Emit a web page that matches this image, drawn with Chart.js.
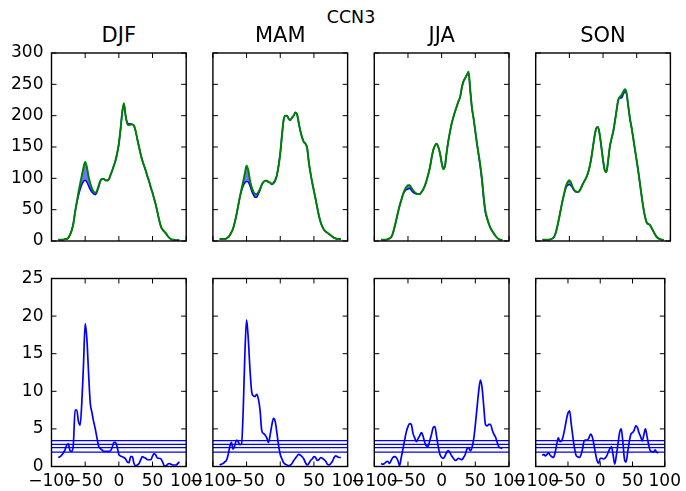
<!DOCTYPE html>
<html>
<head>
<meta charset="utf-8">
<script src="https://cdn.jsdelivr.net/npm/chart.js@4.4.1/dist/chart.umd.min.js"></script>
<style>
  body { margin: 0; background: #fff; }
  #wrap { position: relative; width: 686px; height: 491px; overflow: hidden; }
  #wrap canvas { position: absolute; left: 0; top: 0; }
  .ttl { position: absolute; font-family: 'DejaVu Sans'; color: #000; white-space: nowrap;
         transform: translateX(-50%); line-height: 1; }
</style>
</head>
<body>
<div id="wrap">
  <div class="ttl" style="left:351px; top:9px; font-size:17.5px;">CCN3</div>
</div>
<script>
// latitude grid
var lat = [-90,-87.5,-85,-82.5,-80,-77.5,-75,-72.5,-70,-67.5,-65,-62.5,-60,-57.5,-55,-52.5,-50,-47.5,-45,-42.5,-40,-37.5,-35,-32.5,-30,-27.5,-25,-22.5,-20,-17.5,-15,-12.5,-10,-7.5,-5,-2.5,0,2.5,5,7.5,10,12.5,15,17.5,20,22.5,25,27.5,30,32.5,35,37.5,40,42.5,45,47.5,50,52.5,55,57.5,60,62.5,65,67.5,70,72.5,75,77.5,80,82.5,85,87.5,90];

var seasons = ['DJF', 'MAM', 'JJA', 'SON'];
var xTicks = [-100, -50, 0, 50, 100];
var topTicks = [0, 50, 100, 150, 200, 250, 300];
var botTicks = [0, 5, 10, 15, 20, 25];
var sigLevels = [3.45, 2.95, 2.5, 1.9];

// top row: green and blue curves
var djfGreen = [2,2,2,2,3,3,5,10,17,28,46,62,77,91,104,117,126,118,103,92,84,79,77,80,88,96,99,99,97,96,98,105,112,120,128,140,155,178,205,220,200,187,185,186,186,184,175,162,150,138,128,120,112,103,95,85,77,67,57,45,33,23,18,15,12,8,5,3,2,2,1,1,1];
var djfBlue  = [2,2,2,2,3,3,5,10,17,28,46,60,72,82,90,95,97,94,88,82,78,75,74,78,86,95,99,99,97,97,98,105,112,120,128,140,155,178,205,219,200,189,187,187,186,184,175,162,150,138,128,120,112,103,95,85,77,67,57,45,33,23,18,15,12,8,5,3,2,2,1,1,1];
var mamGreen = [3,3,3,3,4,6,9,14,20,30,42,56,70,83,95,108,120,113,97,86,79,75,75,78,83,90,94,96,96,94,93,91,93,97,105,120,140,168,193,200,200,195,193,197,200,205,202,188,175,165,158,155,148,125,108,93,80,67,53,40,30,23,18,15,13,11,9,7,5,4,3,3,3];
var mamBlue  = [3,3,3,3,4,6,9,14,20,30,42,56,70,80,88,93,95,94,88,80,74,70,70,75,81,89,94,96,96,94,93,90,92,96,105,120,140,168,193,200,200,195,193,197,200,205,202,188,175,165,158,155,148,125,108,93,80,67,53,40,30,23,18,15,13,11,9,7,5,4,3,3,3];
var jjaGreen = [2,2,2,2,3,4,6,12,22,33,45,56,65,74,81,86,89,89,85,81,78,76,75,75,78,82,88,96,106,117,132,145,152,155,150,140,125,115,120,142,160,175,188,198,207,215,223,230,245,255,260,265,270,240,212,195,175,155,138,120,98,70,48,37,28,21,16,12,8,5,3,2,2];
var jjaBlue  = [2,2,2,2,3,4,6,12,22,33,45,56,65,74,79,82,83,84,81,78,76,75,75,75,78,82,88,96,106,117,132,145,152,155,150,140,125,115,120,142,160,175,188,198,207,215,223,230,245,255,260,265,268,240,212,195,175,155,136,117,94,66,45,35,27,21,16,12,8,5,3,2,2];
var sonGreen = [2,2,2,2,2,3,4,7,14,25,38,52,65,77,88,94,97,93,86,81,79,78,80,85,91,96,101,108,118,132,150,168,180,182,170,150,129,113,110,128,150,163,174,190,208,225,230,233,238,242,236,215,195,180,163,145,128,110,90,70,52,38,29,27,25,20,15,10,6,4,3,2,2];
var sonBlue  = [2,2,2,2,2,3,4,7,14,25,38,52,65,76,85,89,90,88,84,80,78,78,80,85,91,96,101,108,118,132,150,168,180,182,170,150,129,113,110,128,150,163,174,190,208,224,228,228,234,238,234,215,195,180,163,145,128,110,90,70,52,38,29,27,25,20,15,10,6,4,3,2,2];

// bottom row: blue difference curves
var djfDiff = [1.2,1.3,1.5,1.8,2.2,2.8,3.0,2.1,2.0,3.0,7.5,7.5,6.0,5.5,8.5,13.5,19.0,17.0,12.5,8.5,7.2,6.0,5.0,3.8,2.7,2.4,2.2,2.0,2.0,2.0,2.0,2.1,2.5,3.2,3.2,2.6,1.6,1.4,1.3,1.2,1.0,0.6,0.5,1.3,1.3,0.4,0.1,0.2,0.4,0.9,1.3,1.2,1.1,0.9,0.9,0.9,1.4,1.7,1.5,1.1,1.1,1.0,0.6,0.1,0.1,0.3,0.4,0.3,0.2,0.2,0.2,0.4,0.6];
var mamDiff = [0.2,0.3,0.4,0.6,0.8,1.5,2.6,3.2,2.3,2.8,3.5,3.3,2.9,3.0,7.5,15.0,19.5,17.0,13.0,10.0,9.4,9.3,9.6,9.0,7.5,4.8,4.4,4.2,3.8,3.2,4.2,5.5,6.4,6.0,4.5,2.8,1.6,1.0,0.5,0.3,0.2,0.1,0.2,0.4,0.8,1.1,1.4,1.6,1.5,1.3,1.0,0.5,0.2,0.4,0.8,1.0,1.3,1.2,0.8,0.9,1.2,1.1,0.9,0.7,0.3,0.2,0.4,0.7,1.2,1.4,1.3,1.2,1.2];
var jjaDiff = [0.4,0.3,0.4,0.6,0.7,0.4,0.8,1.2,1.3,1.2,0.8,0.1,1.2,2.3,3.5,4.6,5.3,5.7,5.6,4.4,3.8,3.3,3.7,4.1,4.5,4.0,3.2,2.7,2.7,3.5,4.3,5.2,5.3,4.0,2.6,1.6,1.2,1.1,1.4,1.9,2.1,1.8,1.4,1.1,0.8,0.9,1.1,1.0,0.9,1.2,1.6,2.3,2.5,2.1,2.5,3.6,5.5,7.8,10.0,11.5,10.5,8.0,5.6,5.4,5.6,5.6,4.9,4.3,3.9,3.2,2.6,2.5,2.4];
var sonDiff = [1.5,1.6,1.4,1.6,1.8,1.5,1.3,1.2,1.8,2.9,3.8,3.3,3.4,4.0,5.0,6.2,7.1,7.4,5.7,4.0,2.5,1.5,1.3,1.2,1.5,2.3,3.4,3.5,3.5,3.8,4.3,4.0,3.0,1.8,0.8,0.4,1.1,1.1,1.0,1.1,1.4,1.9,2.4,2.6,1.5,0.3,1.5,3.0,4.5,5.0,3.3,1.0,0.6,1.9,3.3,4.3,4.5,4.8,5.4,5.2,4.5,4.0,3.4,4.2,5.0,4.0,2.9,2.1,2.0,1.9,2.2,1.9,1.8];

var greens = [djfGreen, mamGreen, jjaGreen, sonGreen];
var blues = [djfBlue, mamBlue, jjaBlue, sonBlue];
var diffs = [djfDiff, mamDiff, jjaDiff, sonDiff];

Chart.defaults.font.family = 'DejaVu Sans';
Chart.defaults.font.size = 17;
Chart.defaults.color = '#000';

var W = 686, H = 491;
var colLeft = [51.5, 212.9, 374.3, 535.7];
var colW = 134.7;
var rowTop = [53, 278.5];
var rowH = 188;
var yAxisW = 50, xAxisH = 24;

function pts(ys) {
    return lat.map(function (l, i) { return {x: l, y: ys[i]}; });
}

function minusSign(v) {
    return String(v).replace('-', '\u2212');
}

// matplotlib-like frame with inward ticks on every side
var frameTicks = {
    id: 'frameTicks',
    afterDraw: function (chart) {
        var ctx = chart.ctx, a = chart.chartArea;
        var xs = chart.scales.x, ys = chart.scales.y;
        ctx.save();
        ctx.strokeStyle = '#000';
        ctx.lineWidth = 1;
        ctx.beginPath();
        xs.ticks.forEach(function (t) {
            var p = xs.getPixelForValue(t.value);
            ctx.moveTo(p, a.bottom); ctx.lineTo(p, a.bottom - 5);
            ctx.moveTo(p, a.top); ctx.lineTo(p, a.top + 5);
        });
        ys.ticks.forEach(function (t) {
            var p = ys.getPixelForValue(t.value);
            ctx.moveTo(a.left, p); ctx.lineTo(a.left + 5, p);
            ctx.moveTo(a.right, p); ctx.lineTo(a.right - 5, p);
        });
        ctx.stroke();
        ctx.lineWidth = 1.4;
        ctx.strokeRect(a.left, a.top, a.right - a.left, a.bottom - a.top);
        ctx.restore();
    }
};

function makePanel(row, col, datasets, yTicks) {
    var cv = document.createElement('canvas');
    cv.width = W; cv.height = H;
    document.getElementById('wrap').appendChild(cv);
    var left = colLeft[col], top = rowTop[row];
    new Chart(cv, {
        type: 'line',
        data: { datasets: datasets },
        options: {
            responsive: false,
            animation: false,
            events: [],
            layout: { padding: { left: left - yAxisW, top: top, right: W - left - colW, bottom: H - top - rowH - xAxisH } },
            plugins: { legend: { display: false }, tooltip: { enabled: false } },
            elements: { point: { radius: 0 } },
            scales: {
                x: {
                    type: 'linear', min: -100, max: 100,
                    afterBuildTicks: function (s) { s.ticks = xTicks.map(function (v) { return {value: v}; }); },
                    afterFit: function (s) { s.height = xAxisH; },
                    grid: { display: false, drawTicks: false },
                    border: { display: false },
                    ticks: { display: row === 1, padding: 5, maxRotation: 0, autoSkip: false, callback: minusSign }
                },
                y: {
                    min: 0, max: yTicks[yTicks.length - 1],
                    afterBuildTicks: function (s) { s.ticks = yTicks.map(function (v) { return {value: v}; }); },
                    afterFit: function (s) { s.width = yAxisW; },
                    grid: { display: false, drawTicks: false },
                    border: { display: false },
                    ticks: { display: col === 0, padding: 8, autoSkip: false }
                }
            }
        },
        plugins: [frameTicks]
    });
}

seasons.forEach(function (name, i) {
    var t = document.createElement('div');
    t.className = 'ttl';
    t.style.left = (colLeft[i] + colW / 2) + 'px';
    t.style.top = '25px';
    t.style.fontSize = '21px';
    t.textContent = name;
    document.getElementById('wrap').appendChild(t);

    // green first so it is drawn on top; fill down to the blue curve
    makePanel(0, i, [
        { data: pts(greens[i]), borderColor: '#008000', borderWidth: 2, cubicInterpolationMode: 'monotone',
          fill: { target: 1 }, backgroundColor: 'rgba(0,0,255,0.55)' },
        { data: pts(blues[i]), borderColor: '#0000ff', borderWidth: 1.5, cubicInterpolationMode: 'monotone', fill: false }
    ], topTicks);

    var ds = [{ data: pts(diffs[i]), borderColor: '#0000ff', borderWidth: 1.7, cubicInterpolationMode: 'monotone', fill: false }];
    sigLevels.forEach(function (v) {
        ds.push({ data: [{x: -100, y: v}, {x: 100, y: v}], borderColor: '#0000ff', borderWidth: 1.2, fill: false });
    });
    makePanel(1, i, ds, botTicks);
});
</script>
</body>
</html>
